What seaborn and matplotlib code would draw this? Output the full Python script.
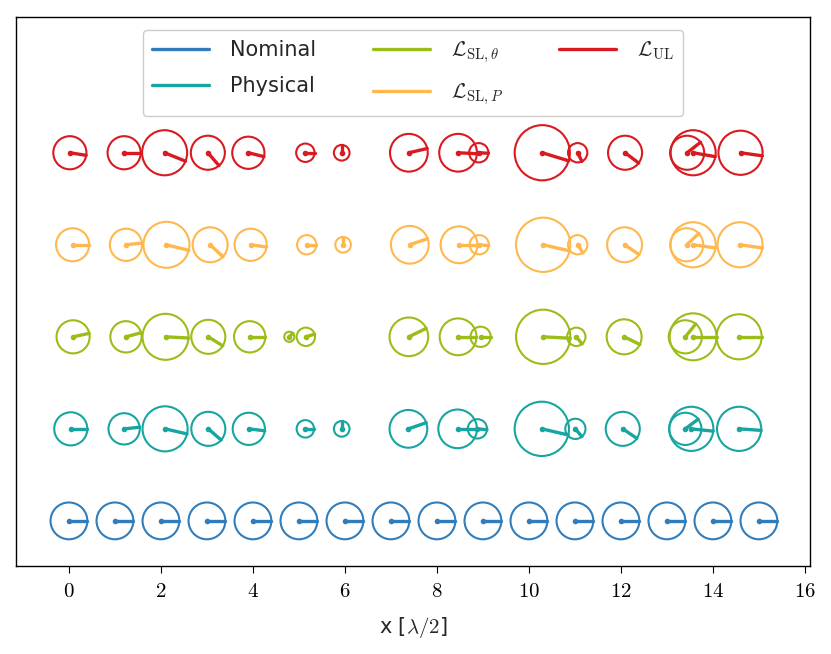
import numpy as np
import pandas as pd
import matplotlib
matplotlib.use("Agg")
import matplotlib.pyplot as plt
from matplotlib.patches import Circle
import seaborn as sns

# element positions [lambda/2], amplitudes (circle radius) and phases [deg]
nominal_x = [0, 1, 2, 3, 4, 5, 6, 7, 8, 9, 10, 11, 12, 13, 14, 15]
nominal_r = [0.40] * 16
nominal_ph = [0] * 16

physical_x = [0.04, 1.20, 2.09, 3.03, 3.91, 5.14, 5.93, 7.38, 8.45, 8.88, 10.28, 11.01, 12.04, 13.40, 13.53, 14.57]
physical_r = [0.36, 0.34, 0.49, 0.37, 0.35, 0.19, 0.17, 0.41, 0.42, 0.21, 0.59, 0.22, 0.37, 0.35, 0.48, 0.48]
physical_ph = [0, 6, -13, -41, -7, 0, 90, 19, 0, -5, -13, -50, -34, 37, -6, -4]

sl_theta_x = [0.09, 1.24, 2.10, 3.03, 3.93, 4.79, 5.15, 7.39, 8.46, 8.95, 10.31, 11.03, 12.07, 13.40, 13.57, 14.57]
sl_theta_r = [0.36, 0.34, 0.50, 0.37, 0.34, 0.11, 0.20, 0.42, 0.40, 0.22, 0.59, 0.20, 0.38, 0.36, 0.51, 0.49]
sl_theta_ph = [12, 15, -3, -32, 0, 45, 17, 26, 0, 0, -3, -51, -26, 51, 0, 0]

sl_p_x = [0.08, 1.24, 2.12, 3.07, 3.95, 5.17, 5.96, 7.41, 8.48, 8.92, 10.31, 11.06, 12.08, 13.43, 13.57, 14.59]
sl_p_r = [0.36, 0.35, 0.50, 0.38, 0.35, 0.21, 0.17, 0.41, 0.40, 0.21, 0.59, 0.21, 0.38, 0.36, 0.49, 0.49]
sl_p_ph = [0, 6, -14, -43, -8, 0, 90, 19, 0, -5, -13, -57, -34, 43, -8, -8]

ul_x = [0.02, 1.20, 2.08, 3.02, 3.90, 5.14, 5.93, 7.39, 8.46, 8.91, 10.29, 11.06, 12.09, 13.44, 13.57, 14.60]
ul_r = [0.36, 0.36, 0.49, 0.37, 0.35, 0.20, 0.17, 0.41, 0.41, 0.21, 0.60, 0.21, 0.37, 0.37, 0.49, 0.48]
ul_ph = [-9, 0, -22, -49, -14, 0, 90, 13, -3, -3, -17, -64, -37, 38, -10, -8]

labels = ["Nominal", "Physical", r"$\mathcal{L}_{\mathrm{SL},\theta}$",
          r"$\mathcal{L}_{\mathrm{SL},P}$", r"$\mathcal{L}_{\mathrm{UL}}$"]
colors = ["#2f7dbd", "#17a5a1", "#9bbd1a", "#ffb84d", "#d91a20"]
row_y = [0, 2, 4, 6, 8]

rows = [
    (nominal_x, nominal_r, nominal_ph),
    (physical_x, physical_r, physical_ph),
    (sl_theta_x, sl_theta_r, sl_theta_ph),
    (sl_p_x, sl_p_r, sl_p_ph),
    (ul_x, ul_r, ul_ph),
]

sns.set_style("ticks")
plt.rcParams["font.family"] = ["DejaVu Sans"]
plt.rcParams["mathtext.fontset"] = "cm"
plt.rcParams["font.size"] = 15

# phase pointers as line segments from the centre to the circle
seg = []
for k, (xs, rs, phs) in enumerate(rows):
    for i, (x0, r0, p0) in enumerate(zip(xs, rs, phs)):
        a = np.deg2rad(p0)
        seg.append((labels[k], f"{k}-{i}", x0, row_y[k]))
        seg.append((labels[k], f"{k}-{i}", x0 + r0 * np.cos(a), row_y[k] + r0 * np.sin(a)))
df = pd.DataFrame(seg, columns=["row", "elem", "x", "y"])

fig = plt.figure(figsize=(8.31, 6.54), dpi=100)
ax = fig.add_axes([0.0193, 0.1346, 0.9554, 0.8394])

sns.lineplot(data=df, x="x", y="y", hue="row", units="elem", estimator=None,
             sort=False, palette=dict(zip(labels, colors)), hue_order=labels,
             lw=2.4, ax=ax)

for k, (xs, rs, phs) in enumerate(rows):
    for x0, r0 in zip(xs, rs):
        ax.add_patch(Circle((x0, row_y[k]), r0, fill=False, ec=colors[k], lw=1.5))
    ax.plot(xs, [row_y[k]] * len(xs), "o", color=colors[k], ms=3.0)

ax.set_xlim(-1.15, 16.11)
ax.set_ylim(-0.98, 10.95)
ax.set_xticks(range(0, 17, 2))
ax.set_xticklabels([f"${v}$" for v in range(0, 17, 2)])
ax.set_yticks([])
ax.set_xlabel(r"x [$\lambda/2$]", labelpad=10)
ax.set_ylabel("")
for s in ax.spines.values():
    s.set_color("black")
    s.set_linewidth(1.0)
ax.tick_params(axis="x", colors="black", length=5, pad=6)

handles, _ = ax.get_legend_handles_labels()
ax.legend(handles=handles, labels=labels, loc="upper center", ncol=3,
          handlelength=2.75, handletextpad=1.0, columnspacing=2.7,
          labelspacing=0.78, borderpad=0.45, borderaxespad=0.6,
          fancybox=True, framealpha=1.0, bbox_to_anchor=(0.5, 1.0))

plt.savefig("out.png", dpi=100)
